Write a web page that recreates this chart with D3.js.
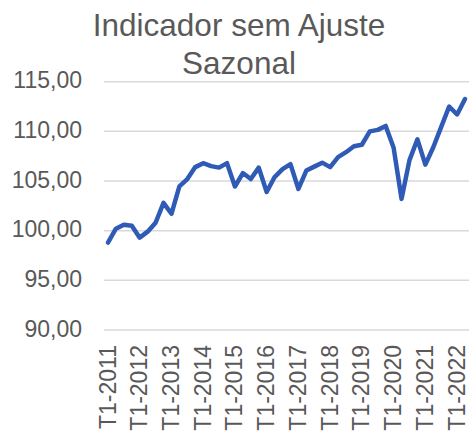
<!DOCTYPE html>
<html><head><meta charset="utf-8">
<script src="https://cdn.jsdelivr.net/npm/d3@7"></script>
<style>body{margin:0;background:#fff}svg{display:block}</style>
</head><body>
<svg id="c" width="469" height="431"></svg>
<script>
const titleLines = ["Indicador sem Ajuste", "Sazonal"];
const years = [2011,2012,2013,2014,2015,2016,2017,2018,2019,2020,2021,2022];
const quarters = ["T1","T2","T3","T4"];
const categories = [];
years.forEach(y => quarters.forEach(q => { if (categories.length < 46) categories.push(q + "-" + y); }));
const values = [
  98.8, 100.2, 100.6, 100.5, 99.3, 99.9, 100.8, 102.8,
  101.7, 104.45, 105.2, 106.4, 106.8, 106.5, 106.35, 106.8,
  104.45, 105.8, 105.2, 106.35, 103.9, 105.4, 106.2, 106.7,
  104.2, 106.05, 106.45, 106.85, 106.4, 107.4, 107.9, 108.5,
  108.65, 110.0, 110.15, 110.55, 108.35, 103.2, 107.1, 109.2,
  106.65, 108.4, 110.45, 112.5, 111.7, 113.25
];
const yTicks = [90, 95, 100, 105, 110, 115];

(function () {
const svg = d3.select("#c");
const mLeft = 104, mRight = 469, mTop = 81.7, mBottom = 330;
const x = d3.scalePoint().domain(categories).range([mLeft, mRight]).padding(0.5);
const y = d3.scaleLinear().domain([90, 115]).range([mBottom, mTop]);
const fmt = v => d3.format(".2f")(v).replace(".", ",");
const font = "Liberation Sans, Arial, sans-serif";

svg.append("g").selectAll("line").data(yTicks).join("line")
  .attr("x1", mLeft).attr("x2", mRight)
  .attr("y1", d => y(d)).attr("y2", d => y(d))
  .attr("stroke", "#d9d9d9").attr("stroke-width", 1.5);

svg.append("g").selectAll("text").data(yTicks).join("text")
  .attr("x", 82).attr("y", d => y(d) - 1.5).attr("dy", "0.35em")
  .attr("text-anchor", "end")
  .attr("font-family", font)
  .attr("font-size", 23).attr("fill", "#595959")
  .text(fmt);

const xLabels = categories.filter(c => c.startsWith("T1"));
svg.append("g").selectAll("text").data(xLabels).join("text")
  .attr("transform", d => `translate(${x(d) - 0.5},${345}) rotate(-90)`)
  .attr("dy", "0.35em")
  .attr("text-anchor", "end")
  .attr("font-family", font)
  .attr("font-size", 23).attr("fill", "#595959")
  .text(d => d);

const line = d3.line().x((d, i) => x(categories[i])).y(d => y(d));
svg.append("path").datum(values)
  .attr("d", line)
  .attr("fill", "none").attr("stroke", "#2f5bb7")
  .attr("stroke-width", 4.5)
  .attr("stroke-linejoin", "round").attr("stroke-linecap", "round");

svg.append("g").selectAll("text").data(titleLines).join("text")
  .attr("x", 239).attr("y", (d, i) => 36 + i * 38)
  .attr("text-anchor", "middle")
  .attr("font-family", font)
  .attr("font-size", 31.5).attr("fill", "#595959")
  .text(d => d);
})();
</script>
</body></html>
